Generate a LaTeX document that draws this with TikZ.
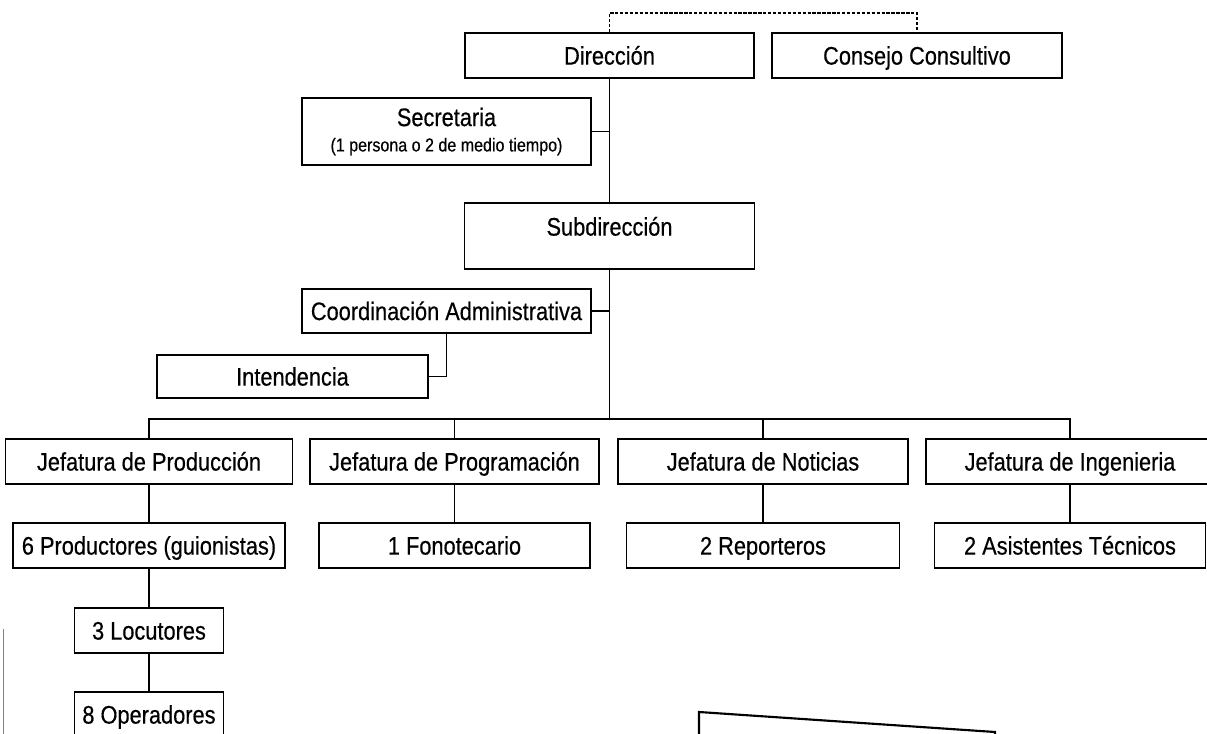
\documentclass[tikz,border=0pt]{standalone}
\usepackage{fontspec}
\setmainfont{Liberation Sans}[FakeStretch=0.86,FakeBold=0.4]
\begin{document}
\begin{tikzpicture}[x=0.75pt,y=-0.75pt,
  box/.style={draw, line width=1.4pt, inner sep=0pt, text height=13.6pt, text depth=0pt,
    font=\fontsize{19}{22}\selectfont, minimum height=33.75pt},
  conn/.style={line width=1.4pt},
  dashconn/.style={line width=1.1pt, dash pattern=on 2.5pt off 1.2pt}]
\clip (0,0) rectangle (1207,734);
\fill[white] (0,0) rectangle (1207,734);
% top level
\node[box, minimum width=216.75pt] (dir) at (609.5,55.5) {Dirección};
\node[box, minimum width=217.5pt] (cons) at (917,55.5) {Consejo Consultivo};
\node[box, minimum width=216.75pt, minimum height=50.25pt, align=center, text height=, text depth=] (sec) at (446.5,131.5)
  {Secretaria\\[-3pt]{\fontsize{14}{16}\selectfont (1 persona o 2 de medio tiempo)}};
\node[box, minimum width=217.5pt, minimum height=49.5pt, text depth=14.2pt] (sub) at (609.5,236) {Subdirección};
\node[box, minimum width=216.75pt, minimum height=33pt] (coord) at (446.5,311) {Coordinación Administrativa};
\node[box, minimum width=203.25pt, minimum height=32.25pt] (int) at (292.5,376.5) {Intendencia};
% level 2
\node[box, minimum width=215.25pt] (prod) at (149,461.5) {Jefatura de Producción};
\node[box, minimum width=216.75pt] (prog) at (454.5,461.5) {Jefatura de Programación};
\node[box, minimum width=217.5pt] (noti) at (763,461.5) {Jefatura de Noticias};
\node[box, minimum width=216pt] (ing) at (1070,461.5) {Jefatura de Ingenieria};
% level 3
\node[box, minimum width=204pt] (pg) at (149,545.5) {6 Productores (guionistas)};
\node[box, minimum width=203.25pt] (fono) at (454.5,545.5) {1 Fonotecario};
\node[box, minimum width=204.75pt] (rep) at (763,545.5) {2 Reporteros};
\node[box, minimum width=203.25pt] (asis) at (1070,545.5) {2 Asistentes Técnicos};
\node[box, minimum width=111.75pt] (loc) at (149,630.5) {3 Locutores};
\node[box, minimum width=111.75pt] (ope) at (149,714.5) {8 Operadores};
% connectors
\coordinate (dtop) at (609.5,13);
\draw[dashconn] (dir.north) -- (dtop) -| (cons.north);
\coordinate (bus) at (609.5,419);
\draw[conn] (dir.south) -- (sub.north);
\draw[conn] (sec.east) -- (sec.east -| dir.south);
\draw[conn] (sub.south) -- (bus);
\draw[conn] (coord.east) -- (coord.east -| sub.south);
\draw[conn] (coord.south) |- (int.east);
\draw[conn] (prod.north) |- (bus) -| (ing.north);
\draw[conn] (prog.north) -- (prog.north |- bus);
\draw[conn] (noti.north) -- (noti.north |- bus);
\draw[conn] (prod.south) -- (pg.north);
\draw[conn] (prog.south) -- (fono.north);
\draw[conn] (noti.south) -- (rep.north);
\draw[conn] (ing.south) -- (asis.north);
\draw[conn] (pg.south) -- (loc.north);
\draw[conn] (loc.south) -- (ope.north);
% scan edges
\draw[line width=1.6pt] (699,745) -- (699,712) -- (995,732) -- (995,745);
\draw[gray, line width=0.6pt] (3,629) -- (3,734);
\end{tikzpicture}
\end{document}
